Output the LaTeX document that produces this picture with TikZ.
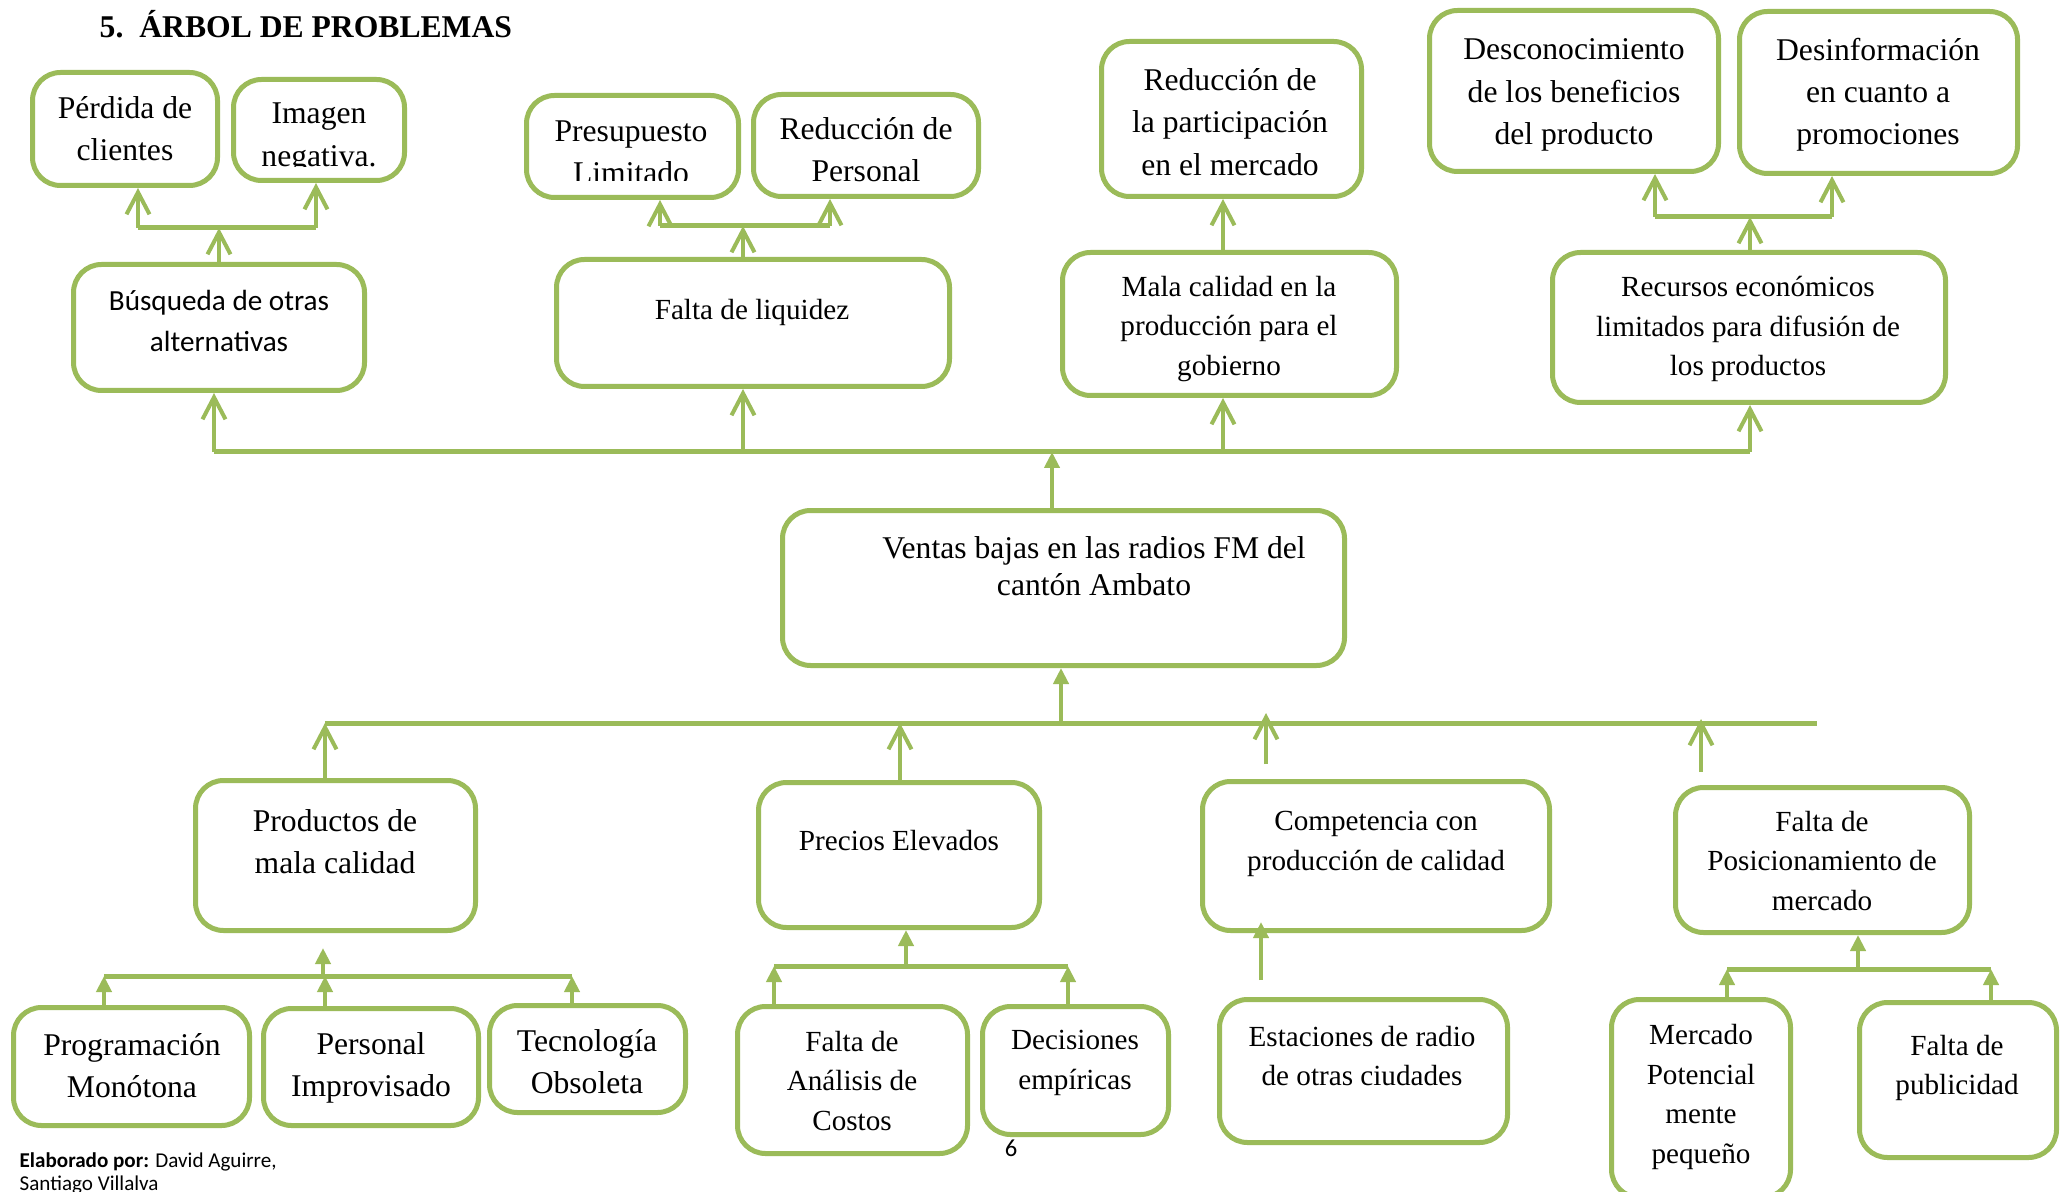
\documentclass[tikz,border=0pt]{standalone}
\usepackage{fontspec}
\setmainfont{Liberation Serif}
\newfontfamily\calibri{Carlito}
\usepackage{xcolor}
\usetikzlibrary{arrows.meta}
\definecolor{leaf}{RGB}{155,187,89}

\begin{document}
\begin{tikzpicture}
  [x=0.1mm,y=-0.1mm,
   box/.style={draw=leaf,line width=0.5mm,rounded corners=2.8mm,fill=white,inner sep=0pt},
   big/.style={align=center,inner sep=0pt,font=\fontsize{9}{12}\selectfont},
   small/.style={align=center,inner sep=0pt,font=\fontsize{8.3}{11.2}\selectfont},
   bar/.style={leaf,line width=0.5mm},
   opn/.style={leaf,line width=0.4mm,-{Straight Barb[length=2.2mm,width=2.3mm]}},
   tri/.style={leaf,line width=0.4mm,-{Triangle[length=1.6mm,width=1.5mm]}}]
  \useasboundingbox (0,0) rectangle (2066,1192);

  \node[anchor=base west,inner sep=0pt,font=\fontsize{9}{11}\selectfont\bfseries] (titulo) at (99,38) {5.\hspace{1.6mm}ÁRBOL DE PROBLEMAS};

  % efectos
  \node[box,minimum width=18.5mm,minimum height=11.3mm] (perdida) at (125,129) {};
  \node[box,minimum width=17.1mm,minimum height=10.1mm] (imagen) at (319,130) {};
  \node[box,minimum width=21.2mm,minimum height=10.2mm] (presupuesto) at (632.5,146.5) {};
  \node[box,minimum width=22.5mm,minimum height=10.2mm] (redpersonal) at (866,145.5) {};
  \node[box,minimum width=26mm,minimum height=15.5mm] (redparticipacion) at (1231.5,119) {};
  \node[box,minimum width=28.9mm,minimum height=16.1mm] (desconocimiento) at (1574,91) {};
  \node[box,minimum width=27.8mm,minimum height=16.2mm] (desinformacion) at (1878.5,92.5) {};

  \node[box,minimum width=29.1mm,minimum height=12.6mm] (busqueda) at (219,327.5) {};
  \node[box,minimum width=39.3mm,minimum height=12.7mm] (liquidez) at (753,323) {};
  \node[box,minimum width=33.4mm,minimum height=14.3mm] (malacalidad) at (1229.5,324) {};
  \node[box,minimum width=39.3mm,minimum height=15mm] (recursos) at (1749,327.5) {};

  % problema central
  \node[box,minimum width=56.2mm,minimum height=15.5mm] (ventas) at (1063.5,588) {};

  % causas
  \node[box,minimum width=28mm,minimum height=15mm] (productos) at (335.5,855.5) {};
  \node[box,minimum width=28.1mm,minimum height=14.5mm] (precios) at (899,855) {};
  \node[box,minimum width=34.7mm,minimum height=14.9mm] (competencia) at (1376,856) {};
  \node[box,minimum width=29.4mm,minimum height=14.5mm] (posicionamiento) at (1822.5,860) {};

  \node[box,minimum width=23.6mm,minimum height=11.8mm] (programacion) at (131.5,1066.5) {};
  \node[box,minimum width=21.5mm,minimum height=11.7mm] (personal) at (371,1067) {};
  \node[box,minimum width=19.6mm,minimum height=10.7mm] (tecnologia) at (587.5,1059) {};
  \node[box,minimum width=23mm,minimum height=14.7mm] (analisis) at (852.5,1080) {};
  \node[box,minimum width=18.6mm,minimum height=12.8mm] (decisiones) at (1075.5,1070.5) {};
  \node[box,minimum width=28.8mm,minimum height=14.3mm] (estaciones) at (1363.5,1071) {};
  \node[box,minimum width=17.9mm,minimum height=19.8mm] (mercado) at (1701,1098.5) {};
  \node[box,minimum width=19.7mm,minimum height=15.5mm] (publicidad) at (1958,1080) {};

  % textos
  \node[big] (perdida-t) at (125,129) {Pérdida de\\clientes};
  \begin{scope}
    \clip (231,77) rectangle (407,167);
    \node[big] (imagen-t) at (319,138) {Imagen\\negativa.};
  \end{scope}
  \begin{scope}
    \clip (524,93) rectangle (741,181);
    \node[big] (presupuesto-t) at (631,152) {Presupuesto\\Limitado};
  \end{scope}
  \node[big] (redpersonal-t) at (866,150) {Reducción de\\Personal};
  \node[big] (redparticipacion-t) at (1230,122) {Reducción de\\la participación\\en el mercado};
  \node[big] (desconocimiento-t) at (1574,95) {Desconocimiento\\de los beneficios\\del producto};
  \node[big] (desinformacion-t) at (1878,95) {Desinformación\\en cuanto a\\promociones};

  \node[small,font=\calibri\fontsize{8.3}{11.6}\selectfont] (busqueda-t) at (219,321) {Búsqueda de otras\\alternativas};
  \node[small] (liquidez-t) at (752,312) {Falta de liquidez};
  \node[small] (malacalidad-t) at (1229,329) {Mala calidad en la\\producción para el\\gobierno};
  \node[small] (recursos-t) at (1748,329) {Recursos económicos\\limitados para difusión de\\los productos};

  \node[big,font=\fontsize{9}{10.5}\selectfont] (ventas-t) at (1094,566) {Ventas bajas en las radios FM del\\cantón Ambato};

  \node[big] (productos-t) at (335,842) {Productos de\\mala calidad};
  \node[small] (precios-t) at (899,841) {Precios Elevados};
  \node[small] (competencia-t) at (1376,844) {Competencia con\\producción de calidad};
  \node[small] (posicionamiento-t) at (1822,861) {Falta de\\Posicionamiento de\\mercado};

  \node[big] (programacion-t) at (132,1066) {Programación\\Monótona};
  \node[big] (personal-t) at (371,1068) {Personal\\Improvisado};
  \node[big] (tecnologia-t) at (587,1062) {Tecnología\\Obsoleta};
  \node[small] (analisis-t) at (852,1081) {Falta de\\Análisis de\\Costos};
  \node[small] (decisiones-t) at (1075,1063) {Decisiones\\empíricas};
  \node[small] (estaciones-t) at (1362,1056) {Estaciones de radio\\de otras ciudades};
  \node[small] (mercado-t) at (1701,1097) {Mercado\\Potencial\\mente\\pequeño};
  \node[small] (publicidad-t) at (1957,1068) {Falta de\\publicidad};

  \node[anchor=north west,inner sep=0pt,align=left,font=\calibri\fontsize{6}{6.6}\selectfont] (autor) at (19,1152) {\textbf{Elaborado por:} David Aguirre,\\Santiago Villalva};
  \node[inner sep=0pt,font=\calibri\fontsize{7}{8}\selectfont] (pagina) at (1011,1148) {6};

  % barras
  \coordinate (g1a) at (138,228); \coordinate (g1b) at (316,228);
  \coordinate (g2a) at (660,226); \coordinate (g2b) at (830,226);
  \coordinate (g4a) at (1655,217); \coordinate (g4b) at (1832,217);
  \coordinate (t0) at (1052,452);
  \coordinate (t1) at (214,452); \coordinate (t2) at (743,452);
  \coordinate (t3) at (1223,452); \coordinate (t4) at (1750,452);
  \coordinate (m0) at (1061,723); \coordinate (m1) at (325,723);
  \coordinate (m2) at (900,723); \coordinate (m5) at (1817,723);
  \coordinate (s3) at (1266,764); \coordinate (m3) at (1266,713);
  \coordinate (s4) at (1701,772); \coordinate (m4) at (1701,719);
  \coordinate (a0) at (323,976); \coordinate (p0) at (323,948);
  \coordinate (a1) at (104,976); \coordinate (a2) at (325,976); \coordinate (a3) at (572,976);
  \coordinate (b0) at (906,966); \coordinate (b1) at (774,966); \coordinate (b2) at (1068,966);
  \coordinate (e1) at (1261,980); \coordinate (e0) at (1261,922);
  \coordinate (d0) at (1858,969); \coordinate (d1) at (1727,969); \coordinate (d2) at (1991,969);

  \foreach \from/\to in {g1a/g1b,g2a/g2b,g4a/g4b,t1/t4,m1/m5,a1/a3,b1/b2,d1/d2}
    \draw[bar] (\from) -- (\to);

  % flechas abiertas
  \foreach \from/\to in {g1a/perdida,g1b/imagen,g2a/presupuesto,g2b/redpersonal,g4a/desconocimiento,g4b/desinformacion,t1/busqueda,t2/liquidez,t3/malacalidad,t4/recursos}
    \draw[opn] (\from) -- (\from |- \to.south);
  \draw[opn] (busqueda.north) -- (busqueda.north |- g1a);
  \draw[opn] (t2 |- liquidez.north) -- (t2 |- g2a);
  \draw[opn] (t3 |- malacalidad.north) -- (t3 |- redparticipacion.south);
  \draw[opn] (t4 |- recursos.north) -- (t4 |- g4a);
  \draw[opn] (m1 |- productos.north) -- (m1);
  \draw[opn] (m2 |- precios.north) -- (m2);
  \draw[opn] (s3) -- (m3);
  \draw[opn] (s4) -- (m4);

  % flechas rellenas
  \draw[tri] (t0 |- ventas.north) -- (t0);
  \draw[tri] (m0) -- (m0 |- ventas.south);
  \draw[tri] (a0) -- (p0);
  \draw[tri] (b0) -- (b0 |- precios.south);
  \draw[tri] (d0) -- (d0 |- posicionamiento.south);
  \draw[tri] (e1) -- (e0);
  \foreach \from/\to in {a1/programacion,a2/personal,a3/tecnologia,b1/analisis,b2/decisiones,d1/mercado,d2/publicidad}
    \draw[tri] (\from |- \to.north) -- (\from);

\end{tikzpicture}
\end{document}
